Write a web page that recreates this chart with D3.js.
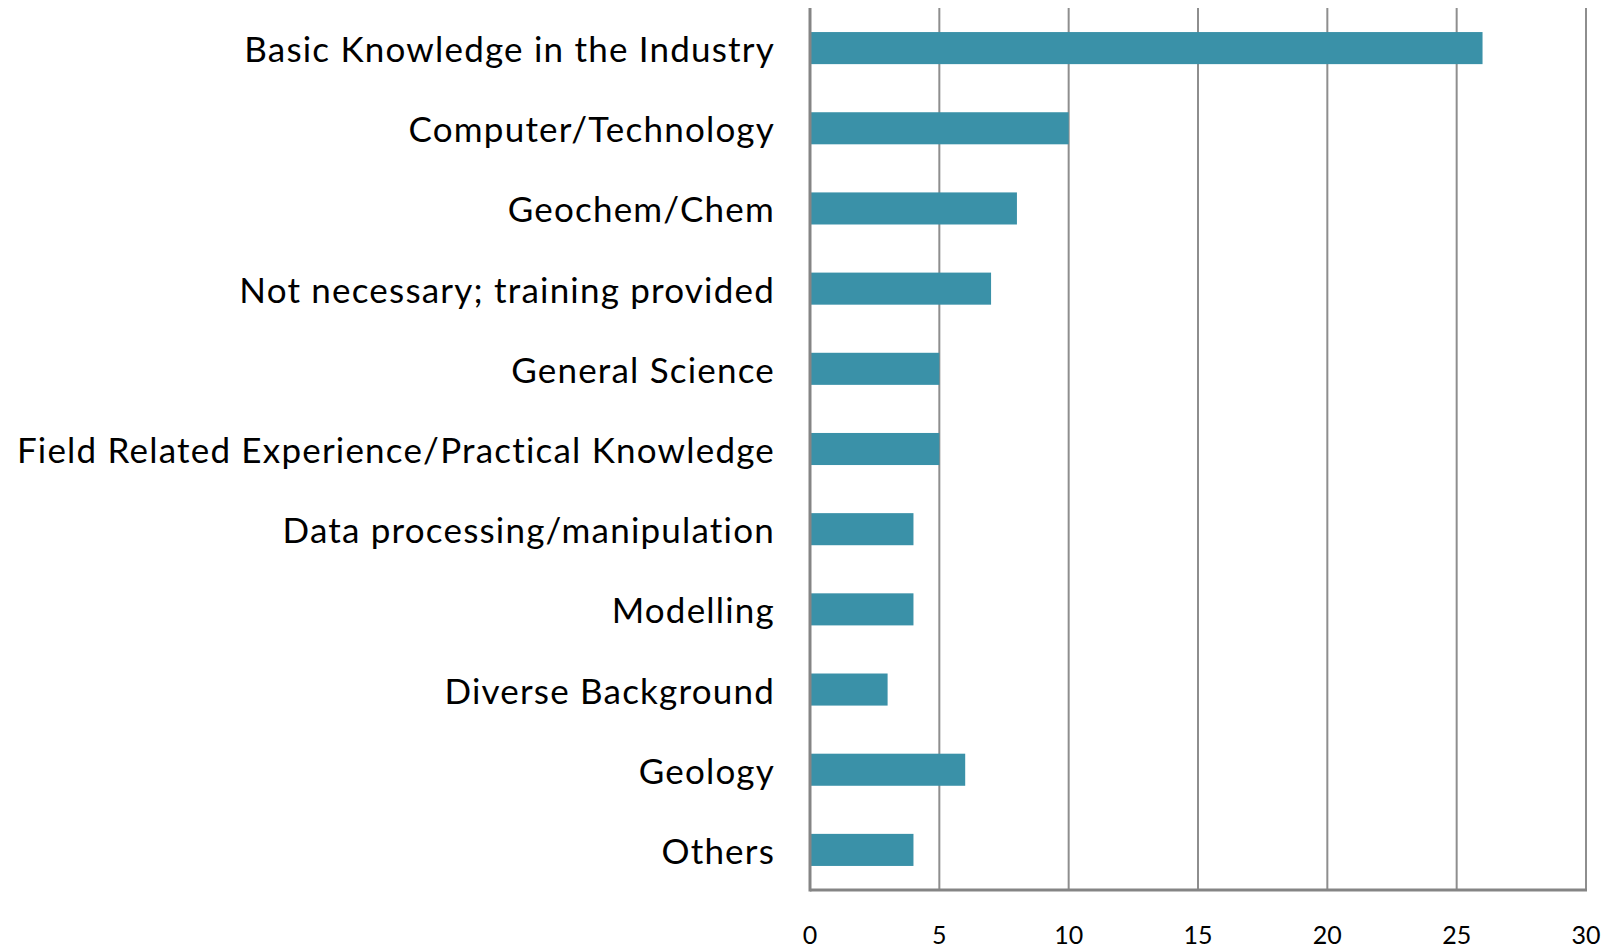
<!DOCTYPE html>
<html>
<head>
<meta charset="utf-8">
<script src="https://cdn.jsdelivr.net/npm/d3@7"></script>
<style>
  body { margin: 0; background: #fff; }
  text { font-family: Lato, "Open Sans", sans-serif; fill: #000; }
</style>
</head>
<body>
<script>
// chart values
var categories = [
  "Basic Knowledge in the Industry",
  "Computer/Technology",
  "Geochem/Chem",
  "Not necessary; training provided",
  "General Science",
  "Field Related Experience/Practical Knowledge",
  "Data processing/manipulation",
  "Modelling",
  "Diverse Background",
  "Geology",
  "Others"
];
var counts = [26, 10, 8, 7, 5, 5, 4, 4, 3, 6, 4];
var xTicks = [0, 5, 10, 15, 20, 25, 30];

var w = 1612, h = 948;
var plotL = 810, plotR = 1586, plotT = 8, plotB = 890;

var svg = d3.select("body").append("svg").attr("width", w).attr("height", h);

var x = d3.scaleLinear().domain([0, 30]).range([plotL, plotR]);
var y = d3.scaleBand().domain(categories).range([plotT, plotB]).paddingInner(0.6).paddingOuter(0.3);

// vertical grid lines
svg.append("g").selectAll("line").data(xTicks.slice(1))
  .enter().append("line")
  .attr("x1", function(d){ return x(d); }).attr("x2", function(d){ return x(d); })
  .attr("y1", plotT).attr("y2", plotB)
  .attr("stroke", "#8e8e8e").attr("stroke-width", 2);

// bars
svg.append("g").selectAll("rect").data(counts)
  .enter().append("rect")
  .attr("x", x(0))
  .attr("y", function(d, i){ return y(categories[i]); })
  .attr("width", function(d){ return x(d) - x(0); })
  .attr("height", y.bandwidth())
  .attr("fill", "#3a91a8");

// axis lines
svg.append("line").attr("x1", plotL).attr("x2", plotL).attr("y1", plotT).attr("y2", plotB + 1.5)
  .attr("stroke", "#858585").attr("stroke-width", 3);
svg.append("line").attr("x1", plotL).attr("x2", plotR + 1).attr("y1", plotB).attr("y2", plotB)
  .attr("stroke", "#858585").attr("stroke-width", 3);

// category labels
svg.append("g").selectAll("text").data(categories)
  .enter().append("text")
  .attr("x", 775)
  .attr("y", function(d){ return y(d) + y.bandwidth() / 2; })
  .attr("text-anchor", "end")
  .attr("dominant-baseline", "central")
  .attr("font-size", 35)
  .attr("letter-spacing", 1.2)
  .text(function(d){ return d; });

// tick labels
svg.append("g").selectAll("text").data(xTicks)
  .enter().append("text")
  .attr("x", function(d){ return x(d); })
  .attr("y", 934)
  .attr("text-anchor", "middle")
  .attr("dominant-baseline", "central")
  .attr("font-size", 25)
  .text(function(d){ return d; });
</script>
</body>
</html>
